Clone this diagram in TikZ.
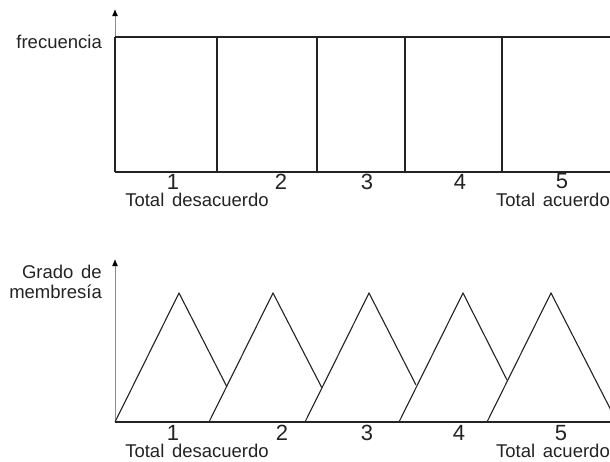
\documentclass[tikz,border=0pt]{standalone}
\usepackage{fontspec}
\setmainfont{Liberation Sans}[WordSpace=1.5]
\usetikzlibrary{arrows.meta}
\definecolor{AxisGray}{RGB}{140,140,140}
\definecolor{LineDark}{RGB}{35,35,35}

\tikzset{
  axisline/.style={draw=AxisGray, line width=1pt, -{Latex[length=7pt,width=6pt,color=black]}},
  barline/.style={draw=LineDark, line width=1.1pt},
  numlabel/.style={font=\fontsize{22}{24}\selectfont, text=LineDark, inner sep=0pt},
  endlabel/.style={font=\fontsize{18.5}{20}\selectfont, text=LineDark, inner sep=0pt},
}

\begin{document}
\begin{tikzpicture}[x=1pt, y=-1pt]
  \useasboundingbox (0,0) rectangle (610,461);
  \clip (0,0) rectangle (610,461);

  % histograma de frecuencia
  \draw[axisline] (115,172) -- (115,9);
  \draw[barline] (115,37) -- (610,37);
  \draw[barline] (115,172) -- (610,172);
  \foreach \x in {115,217,317,405,502}
    \draw[barline] (\x,37) -- (\x,172);
  \node[endlabel, anchor=east] (frec) at (102,42) {frecuencia};
  \foreach \i/\x in {1/173,2/281,3/367,4/460,5/562}
    \node[numlabel] (top\i) at (\x,181.5) {\i};
  \node[endlabel] (topmin) at (197,200) {Total desacuerdo};
  \node[endlabel] (topmax) at (553,200) {Total acuerdo};

  % funciones de membresia
  \draw[axisline] (115,422) -- (115,259);
  \draw[barline] (115,422) -- (610,422);
  \foreach \b/\ex/\ey in {115/227/387, 209/322/388, 305/416/385, 399/507/380, 487/617/422}
    \draw[barline, line join=miter] (\b,422) -- (\b+64,293) -- (\ex,\ey);
  \node[endlabel, anchor=east, align=right] (grado) at (102,282) {Grado de\\membresía};
  \foreach \i/\x in {1/173,2/282,3/367,4/459,5/561}
    \node[numlabel] (bot\i) at (\x,433) {\i};
  \node[endlabel] (botmin) at (197,451) {Total desacuerdo};
  \node[endlabel] (botmax) at (553,451) {Total acuerdo};
\end{tikzpicture}
\end{document}
